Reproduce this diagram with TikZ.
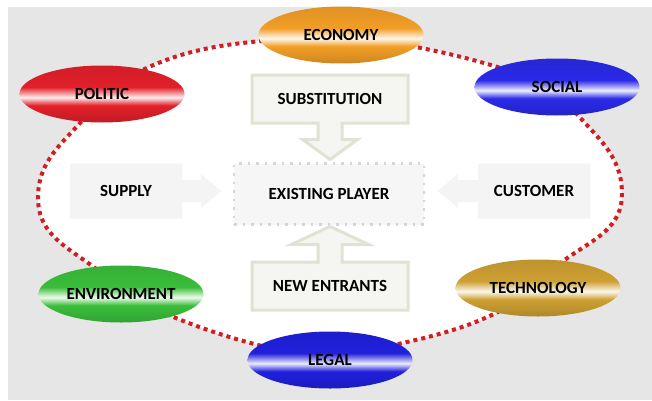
\documentclass[tikz,border=0pt]{standalone}
\usepackage{fontspec}
\setmainfont{Carlito}
\usetikzlibrary{shapes.geometric, shapes.arrows, backgrounds}

\definecolor{pagegrey}{RGB}{230,230,230}
\definecolor{loopred}{RGB}{210,30,34}
\definecolor{forceedge}{RGB}{226,226,212}
\definecolor{forcefill}{RGB}{245,245,242}
\definecolor{sidefill}{RGB}{244,244,244}
\definecolor{playeredge}{RGB}{214,214,214}
\definecolor{playerfill}{RGB}{246,246,246}
\definecolor{politicred}{RGB}{226,32,42}
\definecolor{economyorange}{RGB}{242,158,38}
\definecolor{socialblue}{RGB}{42,42,232}
\definecolor{techgold}{RGB}{206,160,50}
\definecolor{legalblue}{RGB}{32,32,222}
\definecolor{envgreen}{RGB}{58,190,58}

% glossy band shading, white streak across the middle
\newcommand{\glossshade}[2]{%
  \pgfdeclareverticalshading{#1}{100bp}{color(0bp)=(#2!85!black);
    color(25bp)=(#2!85!black); color(40bp)=(#2); color(47bp)=(#2!8!white);
    color(56bp)=(#2); color(75bp)=(#2!92!black); color(100bp)=(#2!92!black)}}
\glossshade{politicshade}{politicred}
\glossshade{economyshade}{economyorange}
\glossshade{socialshade}{socialblue}
\glossshade{techshade}{techgold}
\glossshade{legalshade}{legalblue}
\glossshade{envshade}{envgreen}

\begin{document}
\begin{tikzpicture}[x=1pt, y=1pt, font=\fontsize{17}{20}\selectfont\bfseries,
		factor/.style = {ellipse, minimum width=165pt, minimum height=57pt, inner sep=0pt},
		force/.style = {arrow box, draw=forceedge, line width=3pt, fill=forcefill,
			minimum width=156pt, minimum height=48pt, inner sep=0pt,
			arrow box shaft width=24pt, arrow box head indent=0pt},
		side/.style = {arrow box, fill=sidefill, minimum width=112pt, minimum height=55pt,
			inner sep=0pt, arrow box shaft width=22pt, arrow box head extend=6pt,
			arrow box head indent=0pt, arrow box tip angle=80},
		player/.style = {draw=playeredge, line width=2.5pt, dash pattern=on 2.5pt off 6pt,
			fill=playerfill, minimum width=190pt, minimum height=61pt}]
		\useasboundingbox (0,0) rectangle (652,400);
		
		\node[factor, shading=politicshade] (politic) at (102,306) {POLITIC};
		\node[factor, shading=economyshade] (economy) at (341,365) {ECONOMY};
		\node[factor, shading=socialshade] (social) at (557,313) {SOCIAL};
		\node[factor, shading=techshade] (technology) at (538,112) {TECHNOLOGY};
		\node[factor, shading=legalshade] (legal) at (330,40) {LEGAL};
		\node[factor, shading=envshade] (environment) at (121,106) {ENVIRONMENT};
		\coordinate (rgt) at (622,206);
		\coordinate (lft) at (38,202);
		
		\node[player] (player) at (329,206) {EXISTING PLAYER};
		\node[force, arrow box arrows={south:35pt}, arrow box head extend=15.5pt,
			arrow box tip angle=108] (substitution) at (330,301) {SUBSTITUTION};
		\node[force, arrow box arrows={north:34pt}, arrow box head extend=27pt,
			arrow box tip angle=130] (entrants) at (330,114) {NEW ENTRANTS};
		\node[side, arrow box arrows={east:39pt}] (supply) at (126,209) {SUPPLY};
		\node[side, arrow box arrows={west:40pt}] (customer) at (534,209) {CUSTOMER};
		
		\begin{pgfonlayer}{background}
			\fill[pagegrey] (8,0) rectangle (652,393);
			\draw[loopred, line width=4pt, dash pattern=on 4pt off 4pt, fill=white]
				(politic.center) to[out=35, in=185] (economy.center)
				to[out=-8, in=160] (social.center)
				to[out=-60, in=90] (rgt)
				to[out=-90, in=60] (technology.center)
				to[out=-145, in=15] (legal.center)
				to[out=170, in=-25] (environment.center)
				to[out=125, in=-90] (lft)
				to[out=90, in=-120] (politic.center) -- cycle;
		\end{pgfonlayer}
	\end{tikzpicture}
\end{document}
